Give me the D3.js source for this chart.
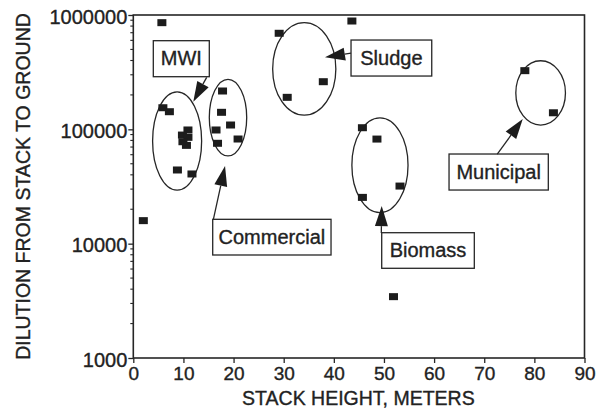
<!DOCTYPE html>
<html>
<head>
<meta charset="utf-8">
<script src="https://cdn.jsdelivr.net/npm/d3@7"></script>
<style>
  body { margin: 0; background: #fff; }
  text { font-family: "Liberation Sans", Arial, sans-serif; fill: #222; stroke: #222; stroke-width: 0.35px; }
</style>
</head>
<body>
<svg id="chart" width="609" height="411"></svg>
<script>
// points, [stack height m, dilution]
const mwi = [[5.9, 154500], [7.2, 142600], [10.9, 98700], [9.8, 89100], [10.9, 85100],
             [9.9, 77900], [10.6, 72400], [8.8, 44100], [11.7, 40700]];
const commercial = [[17.8, 216400], [17.6, 140900], [19.4, 109100], [16.5, 98700], [20.9, 82300], [16.8, 75500]];
const sludge = [[29.1, 692000], [37.9, 261000], [30.7, 190500]];
const biomass = [[45.7, 103300], [48.6, 82200], [53.2, 31900], [45.7, 25400]];
const municipal = [[78.1, 326000], [83.8, 139600]];
const other = [[5.7, 857000], [43.6, 886000], [2.0, 15900], [51.9, 3440]];

// group annotations
const groupNames = ["MWI", "Commercial", "Sludge", "Biomass", "Municipal"];
const ellipseX = [[3.85, 13.63], [15.16, 22.62], [27.8, 40.4], [43.6, 54.8], [76.3, 86.2]];
const ellipseY = [[29400, 213000], [58500, 274000], [133000, 857000], [18700, 126000], [109000, 398000]];
const boxX = [[3.99, 15.16], [15.84, 39.44], [43.43, 59.53], [49.55, 68.02], [62.98, 82.78]];
const boxY = [[288600, 596000], [7960, 16330], [292500, 604000], [6090, 12470], [29450, 60830]];
const arrowFrom = [[14.64, 285000], [15.96, 16260], [43.43, 465000], [49.47, 12400], [72.6, 60830]];
const arrowTo = [[11.97, 174500], [18.3, 47800], [38.24, 426600], [49.55, 21300], [77.68, 123000]];

const xTicks = [0, 10, 20, 30, 40, 50, 60, 70, 80, 90];
const yTicks = [1000, 10000, 100000, 1000000];

const margin = { left: 133.3, top: 15, right: 24.5, bottom: 53 };
const width = 609 - margin.left - margin.right;
const height = 411 - margin.top - margin.bottom;
const ink = "#262626";

const svg = d3.select("#chart").append("g")
    .attr("transform", `translate(${margin.left},${margin.top})`);

const x = d3.scaleLinear().domain([0, 90]).range([0, width]);
const y = d3.scaleLog().domain([1000, 1000000]).range([height, 0]);

// frame
svg.append("rect")
    .attr("width", width).attr("height", height)
    .attr("fill", "none").attr("stroke", ink).attr("stroke-width", 1.6);

// x axis
const xAxis = svg.append("g")
    .attr("transform", `translate(0,${height})`)
    .call(d3.axisBottom(x).tickValues(xTicks).tickFormat(d3.format("d")).tickSize(5).tickPadding(4));
xAxis.select(".domain").remove();
xAxis.selectAll("line").attr("stroke", ink).attr("stroke-width", 1.3);
xAxis.selectAll("text").attr("font-size", 19).attr("fill", ink);

// y axis, minor ticks
const minor = [];
for (let d = 1000; d < 1000000; d *= 10) for (let k = 2; k <= 9; k++) minor.push(d * k);
svg.append("g").selectAll("line").data(minor).join("line")
    .attr("x1", -3).attr("x2", 0)
    .attr("y1", d => y(d)).attr("y2", d => y(d))
    .attr("stroke", ink).attr("stroke-width", 1.1);

const yAxis = svg.append("g")
    .call(d3.axisLeft(y).tickValues(yTicks).tickFormat(d3.format("d")).tickSize(5).tickPadding(1));
yAxis.select(".domain").remove();
yAxis.selectAll("line").attr("stroke", ink).attr("stroke-width", 1.3);
yAxis.selectAll("text").attr("font-size", 20).attr("fill", ink).attr("dy", "0.4em");

// axis titles
svg.append("text")
    .attr("x", x(45) - 0.5).attr("y", height + 47)
    .attr("text-anchor", "middle").attr("font-size", 19.5)
    .text("STACK HEIGHT, METERS");
svg.append("text")
    .attr("transform", `translate(${-103},${height / 2}) rotate(-90)`)
    .attr("text-anchor", "middle").attr("font-size", 19.5)
    .text("DILUTION FROM STACK TO GROUND");

// ellipses
svg.append("g").selectAll("ellipse").data(groupNames).join("ellipse")
    .attr("cx", (d, i) => (x(ellipseX[i][0]) + x(ellipseX[i][1])) / 2)
    .attr("cy", (d, i) => (y(ellipseY[i][0]) + y(ellipseY[i][1])) / 2)
    .attr("rx", (d, i) => (x(ellipseX[i][1]) - x(ellipseX[i][0])) / 2)
    .attr("ry", (d, i) => (y(ellipseY[i][0]) - y(ellipseY[i][1])) / 2)
    .attr("fill", "none").attr("stroke", ink).attr("stroke-width", 1.3);

// points
const allPoints = [].concat(mwi, commercial, sludge, biomass, municipal, other);
svg.append("g").selectAll("rect").data(allPoints).join("rect")
    .attr("x", d => x(d[0]) - 4.5)
    .attr("y", d => y(d[1]) - 3.5)
    .attr("width", 9).attr("height", 7)
    .attr("fill", "#1c1c1c");

// label boxes
const labels = svg.append("g");
groupNames.forEach((name, i) => {
    const x0 = x(boxX[i][0]), x1 = x(boxX[i][1]);
    const y0 = y(boxY[i][1]), y1 = y(boxY[i][0]);
    labels.append("rect")
        .attr("x", x0).attr("y", y0)
        .attr("width", x1 - x0).attr("height", y1 - y0)
        .attr("fill", "#fff").attr("stroke", ink).attr("stroke-width", 1.3);
    labels.append("text")
        .attr("x", (x0 + x1) / 2).attr("y", (y0 + y1) / 2 + 6.5)
        .attr("text-anchor", "middle").attr("font-size", 20)
        .text(name);
});

// arrows
groupNames.forEach((name, i) => {
    const fx = x(arrowFrom[i][0]), fy = y(arrowFrom[i][1]);
    const tx = x(arrowTo[i][0]), ty = y(arrowTo[i][1]);
    const len = Math.hypot(tx - fx, ty - fy);
    const ux = (tx - fx) / len, uy = (ty - fy) / len;
    const headLen = Math.min(20, len * 0.92), hw = 6.5;
    const bx = tx - ux * headLen, by = ty - uy * headLen;
    labels.append("line")
        .attr("x1", fx).attr("y1", fy).attr("x2", bx).attr("y2", by)
        .attr("stroke", ink).attr("stroke-width", 1.3);
    labels.append("polygon")
        .attr("points", [[tx, ty], [bx - uy * hw, by + ux * hw], [bx + uy * hw, by - ux * hw]].join(" "))
        .attr("fill", "#1c1c1c");
});
</script>
</body>
</html>
